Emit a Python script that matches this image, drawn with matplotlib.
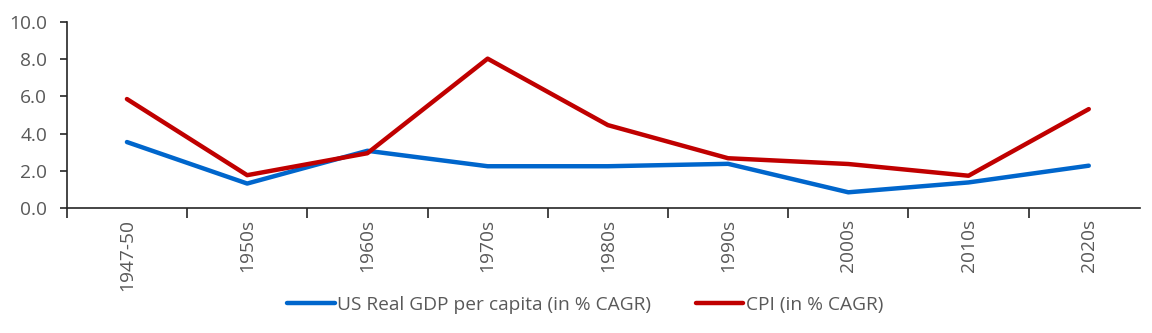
import numpy as np
import matplotlib
matplotlib.use("Agg")
import matplotlib.pyplot as plt

# ─── Data ─────────────────────────────────────────────
periods = ["1947-50", "1950s", "1960s", "1970s", "1980s",
           "1990s", "2000s", "2010s", "2020s"]
gdp_pc = [3.55, 1.32, 3.08, 2.25, 2.25, 2.38, 0.85, 1.38, 2.28]
cpi    = [5.86, 1.77, 2.95, 8.03, 4.46, 2.68, 2.37, 1.74, 5.32]
yticks = [0, 2, 4, 6, 8, 10]

BLUE = "#0066CC"
RED = "#C00000"
GREY = "#595959"
FS = 13.8

plt.rcParams["font.family"] = ["Open Sans", "DejaVu Sans"]

fig = plt.figure(figsize=(11.52, 3.33), dpi=100)
ax = fig.add_axes([0.058, 0.375, 0.932, 0.559])

x = np.arange(len(periods))
ax.plot(x, gdp_pc, color=BLUE, lw=3.2, solid_capstyle="round",
        label="US Real GDP per capita (in % CAGR)")
ax.plot(x, cpi, color=RED, lw=3.2, solid_capstyle="round",
        label="CPI (in % CAGR)")

ax.set_xlim(-0.5, 8.43)
ax.set_ylim(0, 10)

# y axis
ax.set_yticks(yticks)
ax.set_yticklabels([f"{v:.1f}" for v in yticks])
ax.tick_params(axis="y", direction="out", length=5, width=1.2,
               colors="#262626", labelcolor=GREY, labelsize=FS, pad=9)

# x axis: ticks between categories, labels at centres
ax.set_xticks(np.arange(-0.5, 8, 1))
ax.set_xticklabels([])
ax.set_xticks(x, minor=True)
ax.set_xticklabels(periods, minor=True, rotation=90, va="top", ha="center")
ax.tick_params(axis="x", which="major", direction="out", length=7,
               width=1.2, colors="#262626")
ax.tick_params(axis="x", which="minor", length=0, labelcolor=GREY,
               labelsize=FS, pad=8)

for s in ["top", "right"]:
    ax.spines[s].set_visible(False)
for s in ["left", "bottom"]:
    ax.spines[s].set_linewidth(1.2)
    ax.spines[s].set_color("#262626")

leg = fig.legend(loc="center", bbox_to_anchor=(0.508, 0.085), ncol=2,
                 frameon=False, fontsize=FS, handlelength=2.5,
                 handletextpad=0.15, columnspacing=2.3)
for t in leg.get_texts():
    t.set_color(GREY)

fig.savefig("out.png", dpi=100)
